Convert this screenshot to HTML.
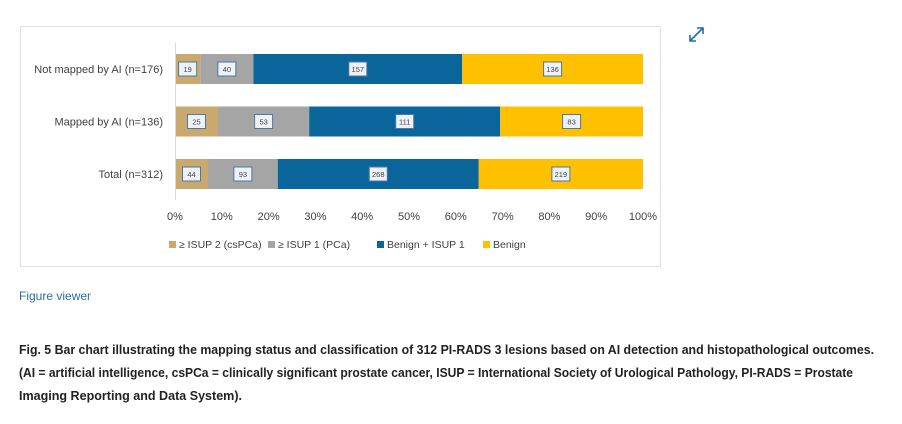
<!DOCTYPE html>
<html><head><meta charset="utf-8"><style>
body{margin:0;width:902px;height:424px;background:#fff;font-family:"Liberation Sans",sans-serif;overflow:hidden;position:relative}
</style></head><body>
<svg width="902" height="424" style="position:absolute;left:0;top:0">
<rect x="20.5" y="26.5" width="640" height="240" fill="#fff" stroke="#e2e2e2"/>
<g id="chart"></g>
<g stroke="#1b6fb0" stroke-width="1.6" fill="none">
<line x1="690" y1="41" x2="703" y2="28"/><polyline points="697,28 703,28 703,34"/><polyline points="690,35 690,41 696,41"/>
</g>
<text x="19" y="300" font-size="12" fill="#2c6d9e">Figure viewer</text>
<g font-size="12.5" font-weight="bold" fill="#222">
<text x="19" y="354" textLength="855" lengthAdjust="spacingAndGlyphs">Fig. 5  Bar chart illustrating the mapping status and classification of 312 PI-RADS 3 lesions based on AI detection and histopathological outcomes.</text>
<text x="19" y="377" textLength="834" lengthAdjust="spacingAndGlyphs">(AI = artificial intelligence, csPCa = clinically significant prostate cancer, ISUP = International Society of Urological Pathology, PI-RADS = Prostate</text>
<text x="19" y="400" textLength="223" lengthAdjust="spacingAndGlyphs">Imaging Reporting and Data System).</text>
</g>
</svg>
<script>
const categories=["Not mapped by AI (n=176)","Mapped by AI (n=136)","Total (n=312)"];
const seriesNames=["≥ ISUP 2 (csPCa)","≥ ISUP 1 (PCa)","Benign + ISUP 1","Benign"];
const csPCa=[19,25,44];
const pca=[40,53,93];
const benignIsup1=[157,111,268];
const benign=[136,83,219];
const tickLabels=["0%","10%","20%","30%","40%","50%","60%","70%","80%","90%","100%"];
const colors=["#c9a96e","#a5a5a5","#0a659b","#ffc000"];
const NS="http://www.w3.org/2000/svg";
const g=document.getElementById('chart');
const x0=175,x1=643;
const xs=p=>x0+(x1-x0)*p;
const yc=i=>69+i*52.5;
function mk(t,a){const e=document.createElementNS(NS,t);for(const k in a)e.setAttribute(k,a[k]);g.appendChild(e);return e;}
const series=[csPCa,pca,benignIsup1,benign];
categories.forEach((c,i)=>{
  const total=series.reduce((s,a)=>s+a[i],0);
  let acc=0;
  const lab=mk('text',{x:163,y:yc(i)+4,'font-size':11,fill:'#404040','text-anchor':'end'});
  lab.textContent=c;
  
  
  series.forEach((s,j)=>{
    const a=xs(acc/total),b=xs((acc+s[i])/total);acc+=s[i];
    const r=mk('rect',{x:a,y:yc(i)-15,width:b-a,height:30,fill:colors[j]});
    
    
    const m=(a+b)/2;
    const bx=mk('rect',{x:m-9,y:yc(i)-7,width:18,height:14,fill:'#eef2f6',stroke:'#4a78a8','stroke-width':1});
    
    
    const t=mk('text',{x:m,y:yc(i)+3,'font-size':7.5,fill:'#444','text-anchor':'middle'});
    t.textContent=s[i];
    
    
  });
});
const ax=mk('line',{x1:175.5,y1:43,x2:175.5,y2:200,stroke:'#d9d9d9'});


tickLabels.forEach((l,k)=>{
  const t=mk('text',{x:xs(k/10),y:220,'font-size':11,fill:'#404040','text-anchor':'middle'});
  t.textContent=l;
  
  
});
const legX=[169,268,377,483];
seriesNames.forEach((n,j)=>{
  const r=mk('rect',{x:legX[j],y:241,width:7,height:7,fill:colors[j]});
  
  
  const t=mk('text',{x:legX[j]+10,y:248,'font-size':10.5,fill:'#404040'});
  t.textContent=n;
  
  
});
</script>
</body></html>
